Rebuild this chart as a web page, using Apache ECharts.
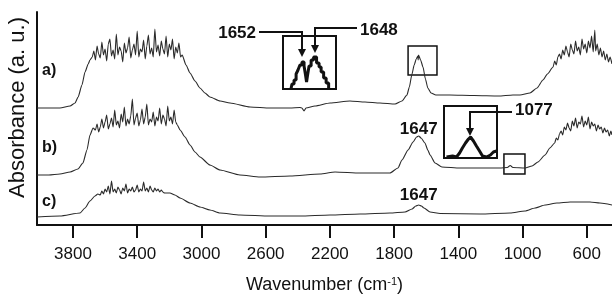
<!DOCTYPE html>
<html>
<head>
<meta charset="utf-8">
<script src="https://cdn.jsdelivr.net/npm/echarts@6/dist/echarts.min.js"></script>
<style>
  html, body { margin: 0; padding: 0; background: #fff; }
  #chart { width: 612px; height: 296px; }
</style>
</head>
<body>
<div id="chart"></div>
<script>
// tick labels of the wavenumber axis
var xTicks = [3800, 3400, 3000, 2600, 2200, 1800, 1400, 1000, 600];

// spectrum a) [wavenumber, absorbance a.u.]
var specA = [
  [4024,117],[3950,117],[3881,117],[3818,119],[3787,122],[3768,128],[3744,140],[3725,153],[3705,161],[3694,165],
  [3680,168],[3670,174],[3660,165],[3650,179],[3640,171],[3630,167],[3620,183],[3610,170],[3600,176],[3590,164],
  [3580,181],[3570,186],[3560,169],[3550,175],[3540,166],[3530,191],[3520,170],[3510,178],[3500,174],[3490,163],
  [3480,182],[3470,172],[3460,177],[3450,188],[3440,167],[3430,175],[3420,181],[3410,170],[3400,194],[3390,168],
  [3380,176],[3370,173],[3360,185],[3350,166],[3340,179],[3330,190],[3320,171],[3310,177],[3300,168],[3290,196],
  [3280,173],[3270,180],[3260,169],[3250,184],[3240,176],[3230,171],[3220,189],[3210,168],[3200,181],[3190,175],
  [3180,186],[3170,166],[3160,178],[3150,172],[3140,182],[3130,168],[3120,170],
  [3096,160],[3071,152],[3040,144],[3009,137],[2978,132],[2947,128],[2884,124],[2822,122],[2697,118],[2573,117],
  [2448,117],[2386,117.5],[2374,117],[2361,114],[2349,117],[2293,119],[2199,122],[2075,124],[1981,123],[1888,122],
  [1794,121],[1751,124],[1720,130],[1705,138],[1690,150],[1675,160],[1662,166],[1652,169],[1650,165],[1648,170],
  [1635,165],[1620,158],[1605,146],[1590,137],[1570,132],[1540,130],[1452,130],[1300,129.5],[1150,129],[1060,130],
  [1016,130],[954,132],[910,137],[873,145],[845,151],
  [810,158],[800,164],[790,160],[780,168],[770,171],[760,166],[750,175],[740,170],[730,179],[720,173],
  [710,168],[700,181],[690,175],[680,171],[670,184],[660,174],[650,178],[640,170],[630,186],[620,176],
  [610,181],[600,172],[590,184],[580,177],[570,189],[560,173],[550,195],[545,174],[535,181],[525,170],
  [515,177],[505,168],[495,174],[485,165],[475,171],[465,163],[455,168],[443,161]
];

// spectrum b)
var specB = [
  [4024,50],[3950,50],[3881,51],[3818,53],[3769,56],[3738,62],[3713,75],[3694,90],[3675,97],
  [3660,95],[3650,101],[3640,93],[3630,98],[3620,106],[3610,97],[3600,103],[3590,110],[3580,96],[3570,101],
  [3560,107],[3550,98],[3540,115],[3530,100],[3520,104],[3510,97],[3500,111],[3490,103],[3480,118],[3470,99],
  [3460,106],[3450,101],[3440,109],[3430,126],[3420,100],[3410,107],[3400,112],[3390,99],[3380,105],[3370,116],
  [3360,101],[3350,108],[3340,121],[3330,100],[3320,106],[3310,103],[3300,113],[3290,99],[3280,108],[3270,104],
  [3260,117],[3250,101],[3240,110],[3230,106],[3220,99],[3210,119],[3200,104],[3190,108],[3180,101],[3170,115],
  [3160,103],[3150,100],
  [3133,95],[3102,88],[3071,80],[3040,73],[3009,68],[2947,60],[2884,55],[2760,50],[2635,48],[2448,49],
  [2261,51],[2168,53],[2012,52],[1826,52],[1776,57],[1751,65],[1713,75],[1682,83],[1660,88],[1647,89],
  [1632,87],[1608,82],[1590,75],[1576,70],[1545,62],[1502,58],[1390,57],[1141,57],[1095,57.5],[1077,59.5],
  [1060,57.5],[985,57],[941,59],[904,63],[860,70],[830,77],
  [800,82],[790,87],[780,85],[770,91],[760,94],[750,90],[740,98],[730,95],[720,102],[710,97],
  [700,94],[690,104],[680,99],[670,107],[660,97],[650,103],[640,101],[630,109],[620,98],[610,104],
  [600,100],[590,108],[580,96],[570,103],[560,99],[550,101],[540,94],[530,100],[520,96],[510,98],
  [500,92],[490,97],[480,93],[470,95],[460,89],[450,94],[443,90]
];

// spectrum c)
var specC = [
  [4024,8],[3881,9],[3756,12],[3725,17],[3694,24],[3663,29],[3645,31],
  [3630,30],[3620,34],[3610,31],[3600,36],[3590,33],[3580,39],[3570,31],[3560,44],[3550,33],[3540,36],
  [3530,32],[3520,38],[3510,35],[3500,31],[3490,37],[3480,34],[3470,41],[3460,32],[3450,36],[3440,34],
  [3430,38],[3420,33],[3410,35],[3400,40],[3390,33],[3380,36],[3370,34],[3360,43],[3350,34],[3340,37],
  [3330,33],[3320,39],[3310,35],[3300,33],[3290,37],[3280,34],[3270,36],[3260,33],[3250,35],[3240,33],
  [3230,32],
  [3196,32],[3165,30],[3133,27],[3071,22],[3009,18],[2947,15],[2884,12],[2760,10],[2573,9],[2386,9],
  [2199,10],[2012,11],[1826,12],[1732,13],[1688,16],[1665,19],[1647,20],[1630,19],[1614,17],[1576,13],
  [1514,11.5],[1265,11],[1078,12],[985,14],[922,17],[860,20],[786,22],[704,23],[580,23],[518,22],[443,20]
];

// zoomed insets
var insetA = [
  [1656.3,0],[1655.6,5],[1654.9,9],[1654.2,15],[1653.6,19],[1652.9,24],[1652.2,27],[1651.5,23],[1651.2,14],
  [1650.8,7],[1650.5,14],[1649.8,23],[1649.1,29],[1648.1,32],[1647.1,26],[1646.4,22],[1645.7,17],[1644.7,11],
  [1644,6],[1643,1]
];
var insetB = [
  [1092.4,1],[1088.5,2],[1086,1],[1084,5],[1082.2,10],[1080.2,15],[1078.3,19],[1077,21],[1075.1,17],
  [1073.2,12],[1071.2,7],[1069.3,2],[1066.7,1],[1064.2,3],[1062.3,6],[1060.3,7]
];

var FONT = 'Liberation Sans, Arial, sans-serif';
var INK = '#111';

var myChart = echarts.init(document.getElementById('chart'));

function spectrum(name, data) {
  return {
    name: name,
    type: 'line',
    data: data,
    showSymbol: false,
    symbol: 'none',
    smooth: 0.2,
    smoothMonotone: 'x',
    lineStyle: { color: '#2a2a2a', width: 1.1 },
    silent: true
  };
}

var sA = spectrum('a', specA);
sA.markArea = {
  silent: true,
  itemStyle: { color: 'rgba(0,0,0,0)', borderColor: INK, borderWidth: 1.5 },
  data: [[{ xAxis: 1713, yAxis: 179 }, { xAxis: 1533, yAxis: 150 }]]
};

var sB = spectrum('b', specB);
sB.markArea = {
  silent: true,
  itemStyle: { color: 'rgba(0,0,0,0)', borderColor: INK, borderWidth: 1.5 },
  data: [[{ xAxis: 1116, yAxis: 71 }, { xAxis: 985, yAxis: 51 }]]
};
sB.markPoint = {
  symbol: 'circle', symbolSize: 0, silent: true,
  label: { show: true, position: 'top', distance: 1, offset: [0, 3], formatter: '1647', fontFamily: FONT, fontWeight: 'bold', fontSize: 17, color: INK },
  data: [{ coord: [1647, 89] }]
};

var sC = spectrum('c', specC);
sC.markPoint = {
  symbol: 'circle', symbolSize: 0, silent: true,
  label: { show: true, position: 'top', distance: 2, offset: [0, 1], formatter: '1647', fontFamily: FONT, fontWeight: 'bold', fontSize: 17, color: INK },
  data: [{ coord: [1647, 20] }]
};

function hiddenAxis(idx, min, max, inv) {
  return { type: 'value', gridIndex: idx, min: min, max: max, inverse: inv, show: false };
}

option = {
  animation: false,
  backgroundColor: '#fff',
  grid: [
    { left: 37, right: 0, top: 12, bottom: 71, containLabel: false, outerBoundsMode: 'none' },
    { left: 283, top: 36, width: 53, height: 53, show: true, borderColor: INK, borderWidth: 2, backgroundColor: 'rgba(0,0,0,0)', outerBoundsMode: 'none' },
    { left: 444, top: 106, width: 53, height: 52, show: true, borderColor: INK, borderWidth: 2, backgroundColor: 'rgba(0,0,0,0)', outerBoundsMode: 'none' }
  ],
  xAxis: [
    {
      type: 'value',
      min: 443,
      max: 4024,
      inverse: true,
      name: 'Wavenumber (cm{sup|-1})',
      nameLocation: 'middle',
      nameGap: 51,
      nameTextStyle: {
        fontFamily: FONT, fontSize: 18, color: INK,
        rich: { sup: { fontFamily: FONT, fontSize: 11, color: INK, verticalAlign: 'top' } }
      },
      axisLine: { show: true, lineStyle: { color: INK, width: 2 } },
      axisTick: { show: true, customValues: xTicks, length: 13, lineStyle: { color: INK, width: 2 } },
      axisLabel: {
        customValues: xTicks, margin: 21, fontFamily: FONT, fontSize: 17, color: INK,
        formatter: function (v) { return String(v); }
      },
      splitLine: { show: false }
    },
    hiddenAxis(1, 1641, 1659, true),
    hiddenAxis(2, 1060, 1094, true)
  ],
  yAxis: [
    {
      type: 'value',
      min: 0,
      max: 213,
      name: 'Absorbance (a. u.)',
      nameLocation: 'middle',
      nameRotate: 90,
      nameGap: 8,
      nameTextStyle: { fontFamily: FONT, fontSize: 22, color: INK, padding: [0, 0, 0, 22] },
      axisLine: { show: true, lineStyle: { color: INK, width: 2 } },
      axisTick: { show: false },
      axisLabel: { show: false },
      splitLine: { show: false }
    },
    hiddenAxis(1, 0, 53, false),
    hiddenAxis(2, 0, 52, false)
  ],
  series: [
    sA, sB, sC,
    {
      name: 'inset a', type: 'line', xAxisIndex: 1, yAxisIndex: 1, data: insetA,
      symbol: 'none', step: 'middle', silent: true,
      lineStyle: { color: INK, width: 3 }
    },
    {
      name: 'inset b', type: 'line', xAxisIndex: 2, yAxisIndex: 2, data: insetB,
      symbol: 'none', silent: true,
      lineStyle: { color: INK, width: 3 }
    }
  ],
  graphic: [
    { type: 'text', x: 42, y: 71, style: { text: 'a)', font: 'bold 16px ' + FONT, fill: INK, verticalAlign: 'middle' } },
    { type: 'text', x: 42, y: 148, style: { text: 'b)', font: 'bold 16px ' + FONT, fill: INK, verticalAlign: 'middle' } },
    { type: 'text', x: 42, y: 202, style: { text: 'c)', font: 'bold 16px ' + FONT, fill: INK, verticalAlign: 'middle' } },
    // 1652 / 1648 callouts
    { type: 'text', x: 256, y: 33, style: { text: '1652', font: 'bold 17px ' + FONT, fill: INK, align: 'right', verticalAlign: 'middle' } },
    { type: 'polyline', shape: { points: [[259, 32], [302, 32], [302, 50]] }, style: { stroke: INK, lineWidth: 2, fill: null } },
    { type: 'polygon', shape: { points: [[298, 49], [306, 49], [302, 57]] }, style: { fill: INK } },
    { type: 'text', x: 360, y: 30, style: { text: '1648', font: 'bold 17px ' + FONT, fill: INK, align: 'left', verticalAlign: 'middle' } },
    { type: 'polyline', shape: { points: [[357, 28], [315, 28], [315, 46]] }, style: { stroke: INK, lineWidth: 2, fill: null } },
    { type: 'polygon', shape: { points: [[311, 45], [319, 45], [315, 53]] }, style: { fill: INK } },
    // 1077 callout
    { type: 'text', x: 515, y: 110, style: { text: '1077', font: 'bold 17px ' + FONT, fill: INK, align: 'left', verticalAlign: 'middle' } },
    { type: 'polyline', shape: { points: [[512, 112], [470, 112], [470, 129]] }, style: { stroke: INK, lineWidth: 2, fill: null } },
    { type: 'polygon', shape: { points: [[466, 128], [474, 128], [470, 136]] }, style: { fill: INK } }
  ]
};

myChart.setOption(option);
</script>
</body>
</html>
